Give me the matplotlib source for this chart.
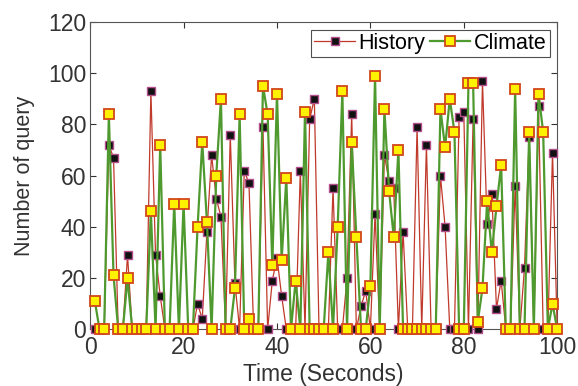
import matplotlib.pyplot as plt
import numpy as np

plt.rcParams["font.family"] = ["Liberation Sans", "DejaVu Sans"]

# time axis, one sample per second
seconds = np.arange(1, 101)

# non-zero readings (second -> count); every other second is 0
history_nonzero = {
    4: 72, 5: 67, 8: 29, 13: 93, 14: 29, 15: 13, 23: 10, 24: 4, 25: 38,
    26: 68, 27: 51, 28: 44, 30: 76, 31: 18, 33: 62, 34: 57, 37: 79,
    39: 19, 40: 28, 41: 13, 45: 62, 47: 82, 48: 90, 52: 55, 55: 20,
    56: 84, 58: 9, 59: 15, 61: 45, 63: 68, 64: 58, 65: 55, 67: 38,
    70: 79, 72: 72, 75: 60, 76: 40, 79: 83, 80: 85, 82: 82, 84: 97,
    85: 41, 86: 53, 87: 8, 88: 19, 91: 56, 93: 24, 94: 75, 96: 87,
    99: 69,
}
climate_nonzero = {
    1: 11, 4: 84, 5: 21, 8: 20, 13: 46, 15: 72, 18: 49, 20: 49, 23: 40,
    24: 73, 25: 42, 27: 60, 28: 90, 31: 16, 32: 84, 34: 4, 37: 95,
    38: 84, 39: 25, 40: 92, 41: 27, 42: 59, 44: 19, 46: 85, 51: 30,
    53: 40, 54: 93, 56: 73, 57: 36, 60: 17, 61: 99, 63: 86, 64: 54,
    65: 36, 66: 70, 75: 86, 76: 71, 77: 90, 78: 77, 81: 96, 82: 96,
    83: 3, 84: 16, 85: 50, 86: 30, 87: 48, 88: 64, 91: 94, 94: 77,
    96: 92, 97: 77, 99: 10,
}

history = np.array([history_nonzero.get(s, 0) for s in seconds])
climate = np.array([climate_nonzero.get(s, 0) for s in seconds])

xticks = [0, 20, 40, 60, 80, 100]
yticks = [0, 20, 40, 60, 80, 100, 120]

fig = plt.figure(figsize=(5.78, 3.86), dpi=100)
ax = fig.add_axes([0.156, 0.147, 0.808, 0.796])

ax.plot(seconds, history, color="#c0392b", linewidth=0.9, marker="s",
        markersize=5.5, markerfacecolor="#111111", markeredgecolor="#b5508f",
        markeredgewidth=1.0, label="History", clip_on=False, zorder=3)
ax.plot(seconds, climate, color="#4e9a2f", linewidth=1.6, marker="s",
        markersize=7, markerfacecolor="#fff200", markeredgecolor="#d2461a",
        markeredgewidth=1.3, label="Climate", clip_on=False, zorder=4)

ax.set_xlim(0, 100)
ax.set_ylim(0, 120)
ax.set_xticks(xticks)
ax.set_yticks(yticks)
ax.tick_params(direction="in", top=True, right=True, labelsize=16.5,
               colors="#333333", length=4)
ax.tick_params(axis="x", pad=5)
ax.tick_params(axis="y", pad=3)
for spine in ax.spines.values():
    spine.set_color("#555555")
ax.set_xlabel("Time (Seconds)", fontsize=16.5, color="#333333", labelpad=3)
ax.set_ylabel("Number of query", fontsize=15.5, color="#333333", labelpad=9)

leg = ax.legend(loc="upper right", ncol=2, fontsize=15.5, frameon=True,
                fancybox=False, handlelength=1.9, handletextpad=0.15,
                columnspacing=0.2, borderpad=0.15, borderaxespad=0.35)
leg.get_frame().set_edgecolor("#222222")
leg.get_frame().set_linewidth(0.8)

fig.savefig("out.png", dpi=100)
